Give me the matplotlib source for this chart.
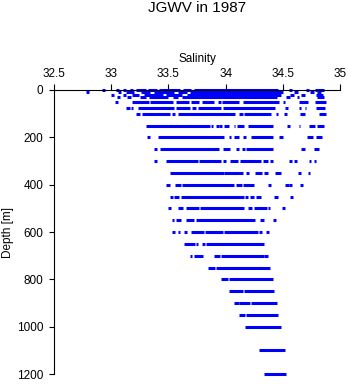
"""Salinity vs depth scatter, JGWV 1987."""

import matplotlib
matplotlib.use("Agg")
from matplotlib import pyplot as plt

plt.rcParams['font.family'] = ['Liberation Sans', 'DejaVu Sans']

# Salinity runs (start, end) observed at each standard depth [m]
s0 = [(32.92, 32.945), (33.04, 33.065), (33.10, 33.125), (33.16, 33.19), (33.22, 33.30),
      (33.32, 33.40), (33.42, 33.60), (33.63, 33.70), (33.72, 34.46), (34.55, 34.58),
      (34.70, 34.725), (34.78, 34.86)]
s10 = [(32.78, 32.805), (33.06, 33.085), (33.13, 33.20), (33.26, 33.34), (33.37, 33.55),
       (33.58, 33.66), (33.69, 34.50), (34.60, 34.63), (34.74, 34.77), (34.80, 34.83)]
s20 = [(33.00, 33.025), (33.10, 33.13), (33.18, 33.24), (33.29, 33.45), (33.48, 33.62),
       (33.66, 34.48), (34.56, 34.60), (34.66, 34.69), (34.79, 34.85)]
s30 = [(33.05, 33.08), (33.14, 33.17), (33.25, 33.30), (33.33, 33.50), (33.54, 33.58),
       (33.62, 34.45), (34.53, 34.56), (34.62, 34.645), (34.80, 34.86)]
s50 = [(33.03, 33.06), (33.18, 33.33), (33.34, 33.54), (33.57, 33.68), (33.70, 33.77),
       (33.79, 33.90), (33.93, 33.96), (33.97, 34.12), (34.15, 34.47), (34.50, 34.52),
       (34.64, 34.72), (34.78, 34.88)]
s75 = [(33.13, 33.16), (33.17, 33.19), (33.23, 33.55), (33.57, 33.69), (33.71, 33.74),
       (33.76, 33.96), (33.98, 34.43), (34.52, 34.545), (34.64, 34.66), (34.69, 34.70),
       (34.79, 34.87)]
s100 = [(33.22, 33.25), (33.27, 33.51), (33.53, 33.56), (33.58, 34.08), (34.12, 34.15),
        (34.16, 34.40), (34.44, 34.46), (34.51, 34.535), (34.65, 34.69), (34.82, 34.88)]
s150 = [(33.30, 33.86), (33.87, 33.89), (33.915, 33.94), (33.945, 33.97), (33.99, 34.03),
        (34.07, 34.08), (34.10, 34.16), (34.20, 34.41), (34.54, 34.565), (34.64, 34.65),
        (34.73, 34.78), (34.80, 34.86)]
s200 = [(33.31, 33.34), (33.41, 33.99), (34.03, 34.05), (34.07, 34.12), (34.15, 34.175),
        (34.22, 34.41), (34.47, 34.50), (34.71, 34.76), (34.79, 34.84)]
s250 = [(33.37, 33.40), (33.43, 33.94), (33.98, 34.04), (34.09, 34.12), (34.14, 34.17),
        (34.18, 34.41), (34.66, 34.69), (34.77, 34.82)]
s300 = [(33.37, 33.40), (33.48, 33.76), (33.77, 33.96), (33.98, 34.00), (34.04, 34.11),
        (34.13, 34.31), (34.33, 34.37), (34.39, 34.41), (34.55, 34.58), (34.60, 34.62),
        (34.73, 34.75), (34.77, 34.79)]
s350 = [(33.51, 33.99), (33.99, 34.15), (34.18, 34.205), (34.26, 34.32), (34.34, 34.37),
        (34.43, 34.48), (34.63, 34.66), (34.72, 34.74)]
s400 = [(33.48, 33.51), (33.56, 33.61), (33.62, 34.07), (34.09, 34.14), (34.15, 34.25),
        (34.37, 34.40), (34.52, 34.55), (34.55, 34.58), (34.65, 34.68)]
s450 = [(33.51, 33.54), (33.55, 33.59), (33.61, 34.16), (34.17, 34.195), (34.21, 34.25),
        (34.27, 34.31), (34.42, 34.46), (34.56, 34.59)]
s500 = [(33.50, 33.525), (33.58, 33.63), (33.65, 33.77), (33.78, 34.16), (34.20, 34.23),
        (34.25, 34.36), (34.37, 34.39), (34.49, 34.52)]
s550 = [(33.53, 33.55), (33.57, 33.61), (33.65, 33.72), (33.74, 34.26), (34.30, 34.34),
        (34.41, 34.44)]
s600 = [(33.535, 33.56), (33.58, 33.605), (33.64, 33.665), (33.70, 33.81), (33.82, 33.98),
        (33.99, 34.28), (34.29, 34.32), (34.35, 34.38)]
s650 = [(33.64, 33.73), (33.74, 33.76), (33.79, 33.82), (33.83, 34.34)]
s700 = [(33.69, 33.71), (33.72, 33.80), (33.90, 33.95), (33.96, 34.34), (34.34, 34.37)]
s750 = [(33.85, 33.91), (33.92, 34.39)]
s800 = [(33.96, 34.02), (34.03, 34.41)]
s850 = [(34.03, 34.15), (34.16, 34.42)]
s900 = [(34.07, 34.12), (34.12, 34.21), (34.22, 34.45)]
s950 = [(34.12, 34.17), (34.18, 34.46)]
s1000 = [(34.17, 34.48)]
s1100 = [(34.29, 34.52)]
s1200 = [(34.34, 34.53)]

depths = [0, 10, 20, 30, 50, 75, 100, 150, 200, 250, 300, 350, 400, 450, 500,
          550, 600, 650, 700, 750, 800, 850, 900, 950, 1000, 1100, 1200]
runs = [s0, s10, s20, s30, s50, s75, s100, s150, s200, s250, s300, s350, s400, s450,
        s500, s550, s600, s650, s700, s750, s800, s850, s900, s950, s1000, s1100, s1200]

x_ticks = [32.5, 33, 33.5, 34, 34.5, 35]
x_labels = ['32.5', '33', '33.5', '34', '34.5', '35']
y_ticks = [0, 200, 400, 600, 800, 1000, 1200]

fig = plt.figure(figsize=(3.48, 3.84), dpi=100)
ax = fig.add_axes([54 / 348, 1 - 374 / 384, 286 / 348, 284 / 384])

for d, segs in zip(depths, runs):
    lo = [a for a, b in segs]
    hi = [b for a, b in segs]
    ax.hlines([d] * len(segs), lo, hi, colors='#0000ff', linewidth=2.2,
              capstyle='butt', clip_on=False)

ax.set_xlim(32.5, 35)
ax.set_ylim(1200, 0)
ax.xaxis.tick_top()
ax.xaxis.set_label_position('top')
ax.set_xticks(x_ticks)
ax.set_xticklabels(x_labels)
ax.set_yticks(y_ticks)
ax.spines['right'].set_visible(False)
ax.spines['bottom'].set_visible(False)
for s in ('top', 'left'):
    ax.spines[s].set_linewidth(0.8)
ax.tick_params(axis='x', direction='out', length=4.5, width=0.8, pad=3, labelsize=8.5)
ax.tick_params(axis='y', direction='out', length=3.6, width=0.8, pad=4, labelsize=8.5)
ax.set_xlabel('Salinity', fontsize=8.5, labelpad=4)
ax.set_ylabel('Depth [m]', fontsize=8.5, labelpad=2)

fig.text(197 / 348, 1 - 8 / 384, 'JGWV in 1987', ha='center', va='center', fontsize=11)

fig.savefig('out.png', dpi=100)
